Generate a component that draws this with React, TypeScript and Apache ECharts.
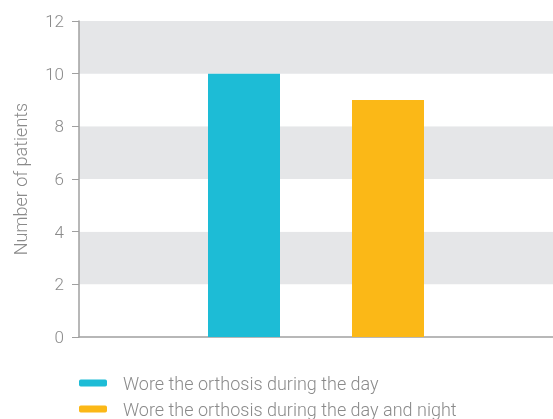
import React, { useEffect, useRef } from "react";
import * as echarts from "echarts";

const categories = ["Patients"];
const seriesNames = [
  "Wore the orthosis during the day",
  "Wore the orthosis during the day and night",
];
const dayValues = [10];
const dayNightValues = [9];
const yTicks = { min: 0, max: 12, interval: 2 };

export default function App() {
  const ref = useRef<HTMLDivElement>(null);
  useEffect(() => {
    if (!ref.current) return;
    const chart = echarts.init(ref.current, null, { renderer: "svg" });
    const textColor = "#8a8a8a";
    const legendBase = {
      orient: "horizontal",
      left: 74,
      icon: "roundRect",
      itemWidth: 28,
      itemHeight: 7,
      textStyle: { color: textColor, fontSize: 18, fontWeight: 300, padding: [0, 0, 0, 11] },
    };
    chart.setOption({
      animation: false,
      textStyle: { fontFamily: "Roboto" },
      grid: { left: 79, width: 480, top: 21, bottom: 82, containLabel: false },
      legend: [
        { ...legendBase, top: 369, data: [seriesNames[0]] },
        { ...legendBase, top: 395, data: [seriesNames[1]] },
      ],
      xAxis: {
        type: "category",
        data: categories,
        axisLine: { lineStyle: { color: "#a0a0a0", width: 1.5 } },
        axisTick: { show: false },
        axisLabel: { show: false },
      },
      yAxis: {
        type: "value",
        min: yTicks.min,
        max: yTicks.max,
        interval: yTicks.interval,
        name: "Number of patients",
        nameLocation: "middle",
        nameGap: 50,
        nameTextStyle: { color: textColor, fontSize: 18, fontWeight: 300 },
        axisLine: { show: true, lineStyle: { color: "#a0a0a0", width: 1.5 } },
        axisTick: { show: true, length: 7, lineStyle: { color: "#a0a0a0" } },
        axisLabel: { color: textColor, fontSize: 17, fontWeight: 300, margin: 15 },
        splitLine: { show: false },
        splitArea: { show: true, areaStyle: { color: ["#ffffff", "#e5e6e8"] } },
      },
      series: [
        {
          name: seriesNames[0],
          type: "bar",
          data: dayValues,
          barWidth: 72,
          barGap: "100%",
          itemStyle: { color: "#1dbcd6" },
        },
        {
          name: seriesNames[1],
          type: "bar",
          data: dayNightValues,
          barWidth: 72,
          itemStyle: { color: "#fbb817" },
        },
      ],
    });
    return () => chart.dispose();
  }, []);
  return (
    <div
      ref={ref}
      style={{ position: "fixed", left: 0, top: 0, width: 553, height: 419 }}
    />
  );
}
